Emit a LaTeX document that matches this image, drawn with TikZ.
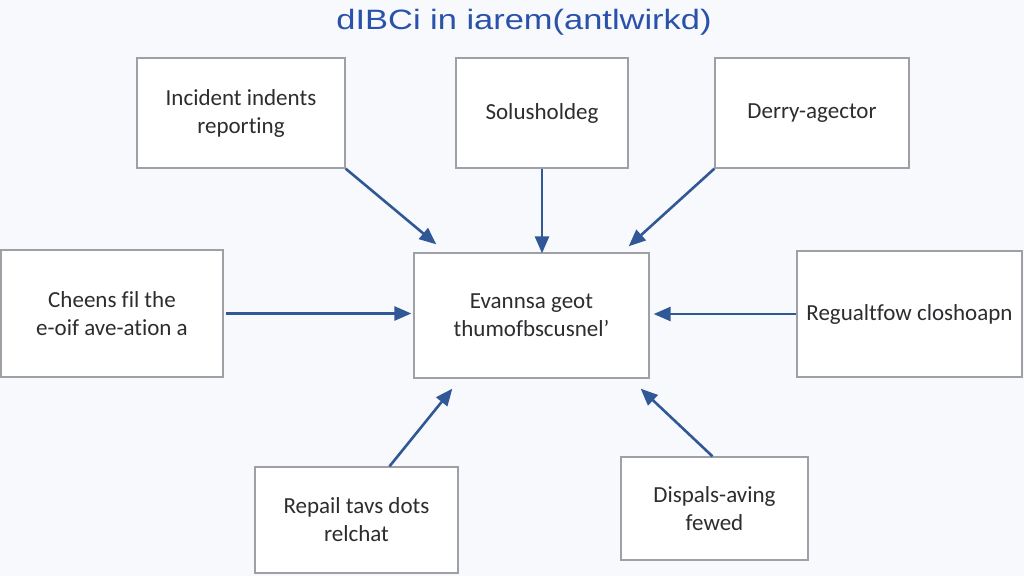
\documentclass[tikz,border=0pt]{standalone}
\usepackage{fontspec}
\setmainfont{Carlito}[Ligatures=NoCommon]
\newfontfamily\titlefont{Liberation Sans}
\usetikzlibrary{arrows.meta}
\definecolor{bg}{RGB}{247,249,252}
\definecolor{arrowblue}{RGB}{48,88,150}
\definecolor{titleblue}{RGB}{42,82,170}
\definecolor{boxgray}{RGB}{158,160,165}
\definecolor{txt}{RGB}{45,45,48}
\begin{document}
\begin{tikzpicture}[x=1pt,y=-1pt,
  box/.style={draw=boxgray,line width=1.3pt,fill=white,align=center,text=txt,inner sep=0pt,font=\fontsize{23}{28}\selectfont},
  flow/.style={draw=arrowblue,line width=2.6pt,-{Triangle[length=17pt,width=14pt]}}]
\fill[bg](0,0)rectangle(1024,576);
\useasboundingbox(0,0)rectangle(1024,576);
\node[font=\titlefont\fontsize{28}{30}\selectfont,text=titleblue](title)at(524,22){\scalebox{1.23}[1]{dIBCi in iarem(antlwirkd)}};
%
\node[box,minimum width=208pt,minimum height=110pt](inc)at(241,113){Incident indents\\reporting};
\node[box,minimum width=172pt,minimum height=110pt](sol)at(542,113){Solusholdeg};
\node[box,minimum width=194pt,minimum height=110pt](der)at(812,113){Derry-agector};
\node[box,minimum width=222pt,minimum height=127pt](che)at(112,313.5){Cheens fil the\\e-oif ave-ation a};
\node[box,minimum width=235pt,minimum height=125pt](eva)at(531.5,315.5){Evannsa geot\\thumofbscusnel'};
\node[box,minimum width=225pt,minimum height=126pt](reg)at(909.5,314){Regualtfow closhoapn};
\node[box,minimum width=203pt,minimum height=106pt](rep)at(356.5,520){Repail tavs dots\\relchat};
\node[box,minimum width=187pt,minimum height=103pt](dis)at(714.5,508.5){Dispals-aving\\fewed};
%
\draw[flow](inc.south east)--([shift={(23,-8)}]eva.north west);
\draw[flow](sol.south)--([yshift=-1]sol.south|-eva.north);
\draw[flow](der.south west)--([shift={(-21,-6)}]eva.north east);
\draw[flow]([xshift=2]che.east)--([xshift=-2]che.east-|eva.west);
\draw[flow](reg.west)--([xshift=4]reg.west-|eva.east);
\draw[flow]([xshift=33]rep.north)--([shift={(39,10)}]eva.south west);
\draw[flow]([xshift=-2]dis.north)--([shift={(-9,10)}]eva.south east);
\end{tikzpicture}
\end{document}
